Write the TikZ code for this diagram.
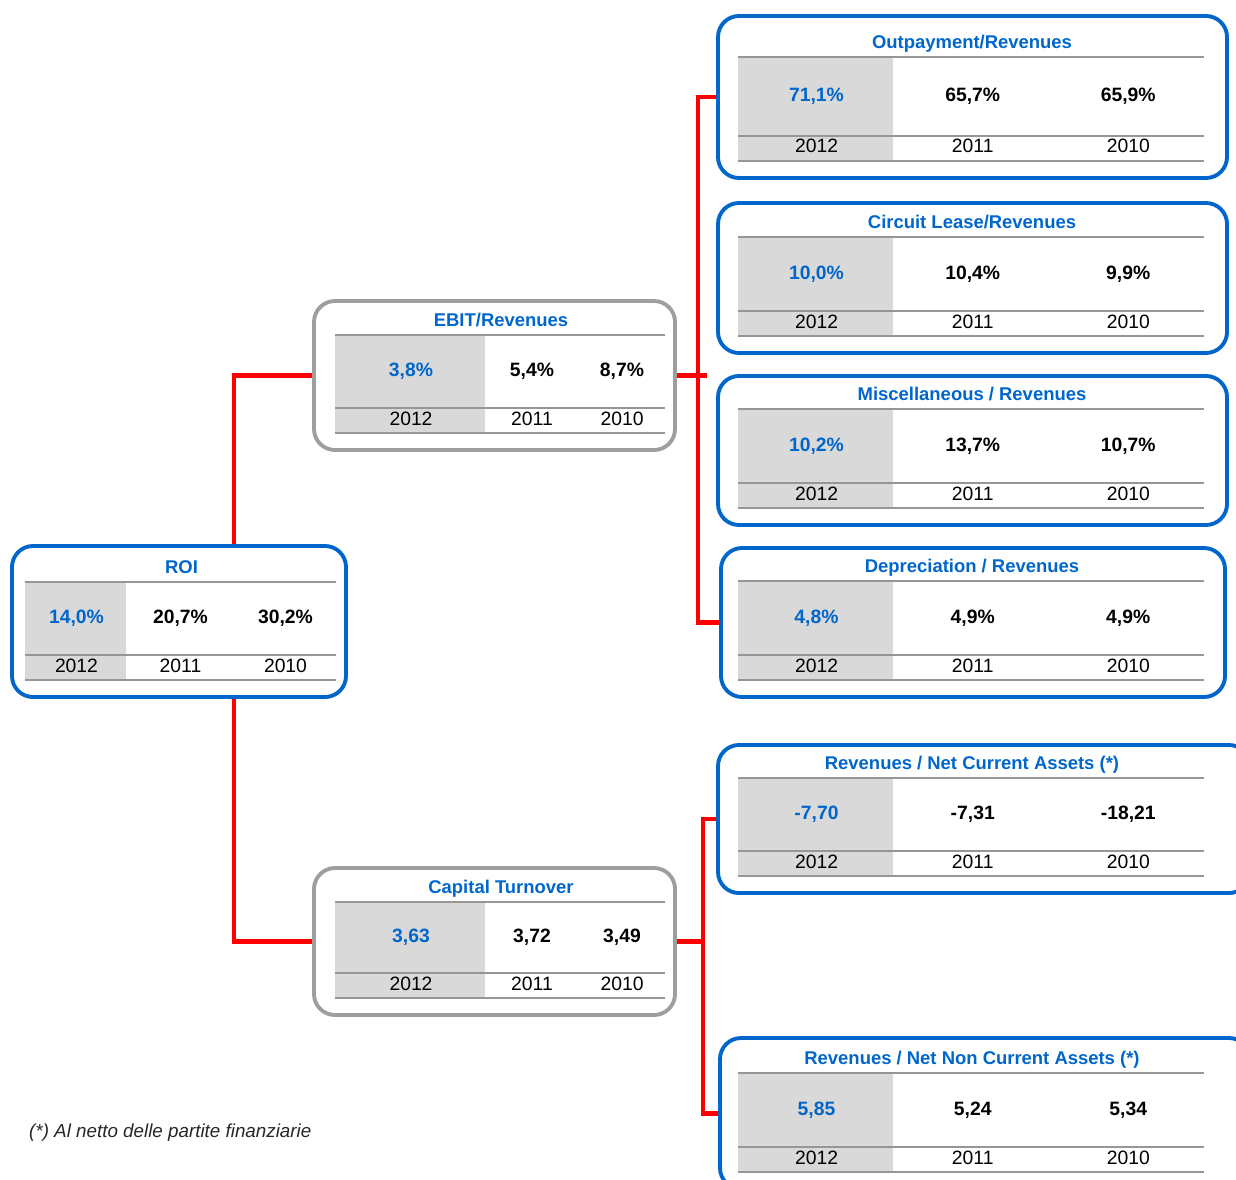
\documentclass[tikz,border=0pt]{standalone}
\usepackage{fontspec}
\setmainfont{Liberation Sans}
\usetikzlibrary{calc,fit}
\definecolor{kblue}{RGB}{0,102,204}
\definecolor{kgray}{RGB}{158,158,158}
\definecolor{cellgray}{RGB}{217,217,217}
\definecolor{rulegray}{RGB}{150,150,150}
\definecolor{kred}{RGB}{255,0,0}

\begin{document}
\begin{tikzpicture}[x=0.02cm,y=-0.02cm,
        box/.style={rounded corners=0.42cm,line width=2.2pt,inner sep=0pt},
        link/.style={draw=kred,line width=2.3pt},
        rule/.style={draw=rulegray,line width=1.4pt},
        head/.style={anchor=base,text=kblue,font=\fontsize{10.5}{12}\selectfont\bfseries},
        val/.style={anchor=base,font=\fontsize{11}{13}\selectfont\bfseries},
        yr/.style={anchor=base,font=\fontsize{11}{13}\selectfont},
        note/.style={anchor=west,text=black!85,font=\fontsize{10.7}{13}\selectfont\itshape}]
    \useasboundingbox (0,0) rectangle (1236,1179);

    % one box per ratio: name/colour/box corners/table left,right/grey width/top rule/title/values
    \foreach \name/\col/\xa/\ya/\xb/\yb/\lx/\rx/\gw/\ty/\head/\va/\vb/\vc in{
            roi/kblue/12/546/346/697/25/336/101/582/{ROI}/{14,0\%}/{20,7\%}/{30,2\%},
            ebit/kgray/314/301/675/450/335/665/150/335/{EBIT/Revenues}/{3,8\%}/{5,4\%}/{8,7\%},
            ct/kgray/314/868/675/1015/335/665/150/902/{Capital Turnover}/{3,63}/{3,72}/{3,49},
            out/kblue/718/16/1227/178/738/1204/155/57/{Outpayment/Revenues}/{71,1\%}/{65,7\%}/{65,9\%},
            circ/kblue/718/203/1227/353/738/1204/155/237/{Circuit Lease/Revenues}/{10,0\%}/{10,4\%}/{9,9\%},
            misc/kblue/718/376/1227/525/738/1204/155/409/{Miscellaneous / Revenues}/{10,2\%}/{13,7\%}/{10,7\%},
            dep/kblue/721/548/1225/697/738/1204/155/581/{Depreciation / Revenues}/{4,8\%}/{4,9\%}/{4,9\%},
            nca/kblue/718/745/1250/893/738/1204/155/778/{Revenues / Net Current Assets (*)}/{-7,70}/{-7,31}/{-18,21},
            nnca/kblue/720/1038/1250/1189/738/1204/155/1073/{Revenues / Net Non Current Assets (*)}/{5,85}/{5,24}/{5,34}} {
            \pgfmathsetmacro\ymid{\yb-42}
            \pgfmathsetmacro\ybot{\yb-17}
            \pgfmathsetmacro\cA{\lx+\gw/2+1}
            \pgfmathsetmacro\cB{\lx+\gw+(\rx-\lx-\gw)/4+2}
            \pgfmathsetmacro\cC{\rx-(\rx-\lx-\gw)/4+2}
            \pgfmathsetmacro\cT{(\lx+\rx)/2+1}
            \pgfmathsetmacro\yT{\ty-15+6.5}
            \pgfmathsetmacro\yV{(\ty+\ymid)/2-2+7}
            \pgfmathsetmacro\yY{(\ymid+\ybot)/2-2+6.5}

            \fill [cellgray] (\lx,\ty) rectangle (\lx+\gw,\ybot);
            \draw [rule] (\lx,\ty) -- (\rx,\ty) (\lx,\ymid) -- (\rx,\ymid) (\lx,\ybot) -- (\rx,\ybot);
            \node [box,draw=\col,fit={(\xa,\ya) (\xb,\yb)}] (\name) {};

            \node [head] (\name-head) at (\cT,\yT) {\head};
            \node [val,text=kblue] (\name-a) at (\cA,\yV) {\va};
            \node [val] (\name-b) at (\cB,\yV) {\vb};
            \node [val] (\name-c) at (\cC,\yV) {\vc};
            \node [yr] (\name-ya) at (\cA,\yY) {2012};
            \node [yr] (\name-yb) at (\cB,\yY) {2011};
            \node [yr] (\name-yc) at (\cC,\yY) {2010};
        }

    % red tree
    \coordinate (busA) at ($(ebit.east)+(21,0)$);
    \coordinate (busB) at ($(ct.east)+(26,0)$);
    \draw [link] (ebit.west) -| ($(roi.north)+(55,0)$);
    \draw [link] (ct.west) -| ($(roi.south)+(55,0)$);
    \draw [link] (ebit.east) -- ++(30,0);
    \draw [link] (out.west) -| (busA) |- (dep.west);
    \draw [link] (ct.east) -- (busB);
    \draw [link] (nca.west) -| (busB) |- (nnca.west);

    \node [note] (note) at (23,1133) {(*) Al netto delle partite finanziarie};
\end{tikzpicture}
\end{document}
